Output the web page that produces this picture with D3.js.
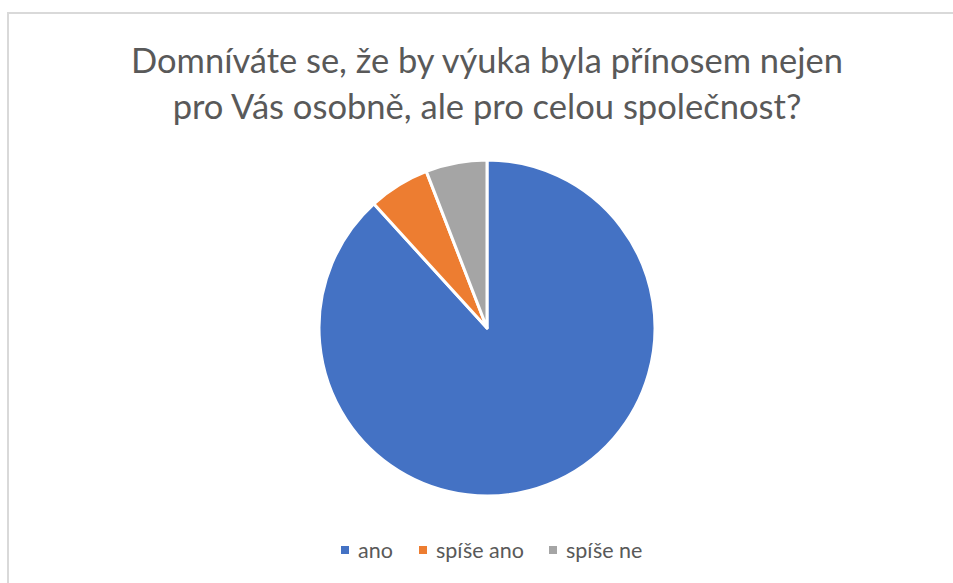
<!DOCTYPE html>
<html>
<head>
<meta charset="utf-8">
<script src="https://cdn.jsdelivr.net/npm/d3@7"></script>
<style>
  html, body { margin: 0; padding: 0; background: #fff; }
  svg { display: block; }
</style>
</head>
<body>
<div id="chart"></div>
<script>
// chart data
const titleLines = ['Domníváte se, že by výuka byla přínosem nejen', 'pro Vás osobně, ale pro celou společnost?'];
const categories = ['ano', 'spíše ano', 'spíše ne'];
const counts = [30, 2, 2];
const colors = ['#4472c4', '#ed7d31', '#a5a5a5'];

const width = 953, height = 583;
const cx = 487, cy = 328, radius = 168;

const svg = d3.select('#chart').append('svg')
  .attr('width', width)
  .attr('height', height);

svg.append('rect')
  .attr('width', width).attr('height', height)
  .attr('fill', '#fff');

// chart frame, cut off at right and bottom
svg.append('rect')
  .attr('x', 8).attr('y', 13)
  .attr('width', 960).attr('height', 600)
  .attr('fill', 'none')
  .attr('stroke', '#d9d9d9')
  .attr('stroke-width', 2);

// title
const fontFamily = 'Lato, "Open Sans", sans-serif';
const titleWidths = [712, 629];
const titleBase = [73, 119];
titleLines.forEach(function(line, i) {
  const t = svg.append('text')
    .attr('x', cx)
    .attr('y', titleBase[i])
    .attr('text-anchor', 'middle')
    .attr('fill', '#595959')
    .style('font-family', fontFamily)
    .style('font-size', '30px')
    .text(line);
  const w = t.node().getComputedTextLength();
  t.style('font-size', (30 * titleWidths[i] / w) + 'px');
});

// pie
const pie = d3.pie().sort(null).value(function(d) { return d; });
const arc = d3.arc().innerRadius(0).outerRadius(radius);

svg.append('g')
  .attr('transform', 'translate(' + cx + ',' + cy + ')')
  .selectAll('path')
  .data(pie(counts))
  .enter().append('path')
    .attr('d', arc)
    .attr('fill', function(d, i) { return colors[i]; })
    .attr('stroke', '#fff')
    .attr('stroke-width', 3)
    .attr('stroke-linejoin', 'round');

// legend
const legendX = [341, 419, 549];
const legend = svg.append('g');
const labels = [];
categories.forEach(function(c, i) {
  legend.append('rect')
    .attr('x', legendX[i]).attr('y', 546)
    .attr('width', 8).attr('height', 8)
    .attr('fill', colors[i]);
  labels.push(legend.append('text')
    .attr('x', legendX[i] + 17)
    .attr('y', 558)
    .attr('fill', '#595959')
    .style('font-family', fontFamily)
    .style('font-size', '18px')
    .text(c));
});
// size legend font so "spíše ano" is about 88px wide
const lw = labels[1].node().getComputedTextLength();
labels.forEach(function(t) { t.style('font-size', (18 * 88 / lw) + 'px'); });
</script>
</body>
</html>
